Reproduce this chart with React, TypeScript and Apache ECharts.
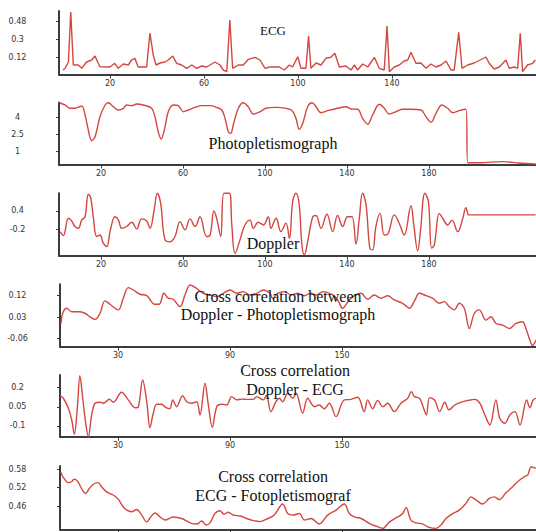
import React, { useEffect, useRef } from "react";
import * as echarts from "echarts";

// ---- data (x = sample index, y = amplitude) ----
const ecgData = [
  [0,-0.01],[0.9,0.007],[2.3,0.07],[3.3,0.57],[4.4,0.04],[6.5,0.04],[8,0.007],[10,0.07],[12.2,0.09],[13.6,0.13],[15,0.057],[15.7,0.023],[20,0.02],[22,0.057],[23.5,0.007],[25.7,0.05],[27.8,0.04],[29.2,0.09],[30.6,0.107],[32,0.02],[35.6,0.02],[37,0.36],[38.4,0.14],[39.6,0.04],[41.3,0.06],[43.4,0.07],[44.8,0.09],[46.7,0.13],[48.4,0.057],[50.5,0.04],[52.6,0.007],[54.8,0.04],[56.9,0.007],[59,0.03],[61.1,0.02],[64.7,0.07],[66.8,0.04],[68.2,-0.01],[69.7,-0.027],[71,0.49],[72.2,0.007],[74.6,0.04],[76.7,0.04],[78.9,0.097],[81.7,0.117],[83.8,0.09],[86,0.007],[88,0.02],[92,0.02],[94.2,-0.01],[96.3,0.04],[97.7,0.02],[99.9,0.123],[101.3,0.007],[103.4,0.007],[104.5,0.33],[105.5,0.007],[107.7,0.06],[109.8,0.04],[111.9,0.107],[114,0.117],[115.7,0.157],[117.6,0.02],[120.4,0.03],[122.6,-0.01],[124,0.04],[125.4,-0.01],[127.5,0.05],[129.7,0.02],[132.5,0.117],[134.6,0.007],[136.7,-0.01],[137.9,0.43],[138.9,-0.027],[141,0.02],[143.1,0.04],[145.2,0.08],[146.7,0.09],[148.1,0.167],[150.2,0.057],[152.3,0.06],[154.5,0.007],[156.6,0.05],[158.7,0.02],[160.9,0.04],[163,0.08],[165.1,-0.01],[166.5,-0.01],[168.4,0.367],[169.8,0.007],[172.2,0.04],[175,0.06],[180,0.12],[181.4,0.057],[183.5,0.0],[185.7,0.02],[188.5,0.09],[189.9,0.007],[192,0.02],[193.5,0.007],[194.6,0.357],[195.6,-0.027],[197.7,0.04],[199.9,0.057],[201,0.09]
];

const photoData = [
  [-0.3,5.26],[2.4,5.06],[4.9,4.77],[7.3,4.77],[10.6,4.97],[12.2,4.18],[13.8,2.85],[15.4,1.91],[17.1,2.26],[19.5,4.03],[22,5.06],[23.6,5.26],[26,4.91],[28.5,4.62],[30.9,4.77],[32.5,5.06],[35,5.0],[37.4,5.15],[40.6,5.06],[44.7,4.77],[46.3,4.03],[47.9,2.7],[49.3,2.06],[50.9,2.85],[52.8,4.47],[55.3,5.06],[57.7,5.0],[60.2,4.47],[62.6,4.62],[65.9,4.85],[69.1,5.0],[73.2,5.0],[76.4,4.85],[78.9,4.62],[80.5,3.88],[82.1,2.7],[83.3,2.56],[84.5,3.3],[87,4.77],[89.4,5.26],[91.8,4.91],[94.3,4.26],[97.6,4.47],[100.5,4.77],[105.4,4.85],[112.7,4.62],[115.1,3.88],[116.7,2.91],[118.4,3.44],[120.8,4.91],[123,5.26],[124.9,4.91],[127.3,4.38],[130.6,4.56],[135.4,4.77],[139.5,4.91],[142,4.71],[145.2,4.68],[147.6,3.88],[150.1,3.36],[152.5,4.18],[155.8,5.12],[158.2,4.77],[160.6,4.26],[163.9,4.47],[167.2,4.68],[171.2,4.68],[176.1,4.62],[178.5,4.03],[181,3.53],[183.4,4.32],[186.3,5.06],[189.1,4.77],[191.6,4.38],[194.8,4.56],[198,4.68],[198.9,-0.03],[200.2,-0.03],[204.5,-0.03],[215.9,0.06],[224,-0.06],[232,-0.15]
];

const dopplerData = [
  [0,-0.28],[1.6,-0.41],[4.1,0.16],[5.7,0.07],[7.3,-0.11],[8.9,-0.17],[10.6,0.1],[12.2,0.21],[13.8,0.95],[15,0.82],[16.3,0.16],[17.9,-0.44],[19.5,-0.39],[21.1,-0.66],[22.8,-0.77],[24.4,-0.28],[26.8,0.21],[28.5,0.1],[30.1,-0.17],[32.5,-0.11],[35,0.03],[37.4,-0.19],[39.8,0.14],[42.3,0.07],[43.9,-0.17],[45.9,0.43],[47.5,0.98],[49.1,0.65],[51.2,-0.55],[53.7,-0.61],[56.1,-0.44],[58.5,0.05],[61,-0.22],[63.4,0.14],[65.9,-0.11],[68.3,0.21],[71.5,-0.44],[73.2,-0.39],[75.1,0.4],[76.4,0.16],[78.4,-0.44],[80,0.98],[82.6,0.98],[83.8,-0.06],[85.4,-0.99],[87.8,-0.55],[90.2,-0.06],[92.7,0.1],[94.3,-0.17],[96.7,0.03],[99.2,-0.06],[101.6,0.21],[102.9,-0.17],[105.4,0.16],[107.8,-0.28],[110.2,0.0],[111.9,-0.5],[113.5,0.71],[115.1,0.98],[116.7,0.6],[118,-0.71],[119.2,-1.04],[120.8,-0.61],[123.3,0.21],[124.9,0.25],[127.3,-0.17],[130.2,0.29],[133,-0.28],[135.4,0.25],[137.9,-0.11],[140.3,0.21],[142.4,0.21],[144.4,-0.69],[146,0.16],[147.6,0.98],[149.3,0.6],[151.2,-0.85],[152.5,-0.88],[154.1,-0.11],[156.1,0.32],[158.2,-0.39],[159.8,-0.37],[163.1,0.27],[165.5,-0.01],[167.9,-0.39],[171.2,0.57],[172.5,-0.01],[174.5,-0.91],[175.8,-0.28],[178,0.98],[179.7,0.71],[181.3,-0.82],[182.6,-0.71],[185,0.32],[186.7,0.16],[189.1,-0.06],[191.2,0.1],[194,-0.28],[196.5,0.16],[198,0.51],[199.4,0.27],[201,0.27],[232,0.27]
];

const ccDopPhoto = [
  [-0.5,0.003],[0.4,0.046],[2.5,0.067],[5.2,0.052],[8.7,0.052],[12.3,0.046],[15,0.031],[17.7,0.02],[20.4,0.046],[23,0.098],[25.7,0.084],[30.2,0.06],[32.8,0.109],[35.5,0.154],[38.2,0.144],[41.8,0.126],[45.4,0.12],[49.8,0.084],[52.1,0.084],[54.6,0.13],[56.9,0.11],[59.6,0.105],[63.2,0.074],[65.9,0.123],[68.6,0.165],[72.2,0.15],[75.7,0.13],[79.3,0.123],[82.9,0.116],[86.4,0.13],[90,0.144],[93.6,0.13],[97.1,0.137],[100.7,0.123],[104.3,0.13],[107.8,0.144],[111.4,0.13],[112.8,0.109],[115.5,0.13],[119.1,0.137],[122.7,0.123],[126.2,0.13],[129.8,0.12],[133.4,0.13],[136.1,0.123],[139.7,0.137],[145,0.123],[147.7,0.102],[150.3,0.067],[153.9,0.102],[156.6,0.12],[160.2,0.13],[163.7,0.105],[167.3,0.123],[170.9,0.109],[174.5,0.12],[178,0.102],[182.5,0.088],[186.1,0.067],[188.8,0.098],[191.4,0.13],[195,0.12],[198.6,0.109],[202.1,0.088],[204.8,0.095],[207.4,0.074],[210.1,0.06],[212.8,0.088],[215.5,0.067],[218.2,-0.018],[220.9,0.046],[223.5,0.06],[227.1,0.017],[229.8,0.031],[232.5,0.003],[236,-0.004],[239.6,-0.018],[243.2,0.003],[246.7,0.01],[248.5,-0.018],[250.3,-0.06],[252.1,-0.09],[253.9,-0.067]
];

const ccDopEcg = [
  [-1,0.137],[0.7,0.117],[3.4,0.039],[5.2,-0.053],[6.6,-0.165],[8.2,0.039],[9.6,0.294],[11.1,0.117],[12.7,-0.079],[14.1,-0.184],[15.9,-0.014],[17.7,0.078],[20.4,0.086],[22.1,0.078],[25.4,0.109],[27.5,0.086],[31.9,0.164],[35.5,0.104],[39.1,0.043],[40.9,0.051],[43.2,0.26],[45.4,0.09],[47.1,-0.113],[48.9,0.0],[50.7,0.07],[53.4,0.07],[55.7,0.043],[57.8,0.035],[59.3,0.104],[61.4,0.051],[64.6,0.137],[66.8,0.09],[69.5,0.078],[72.1,0.09],[73.9,-0.014],[76.6,0.234],[78.4,0.064],[80.5,-0.11],[82.9,0.051],[85.5,0.07],[88.2,0.064],[90.9,0.13],[93.6,0.104],[96.3,0.11],[98.9,0.108],[102.5,0.108],[104.3,0.13],[107.8,0.104],[109.5,0.14],[111.9,0.012],[114.6,0.09],[116.4,0.117],[118.2,0.09],[120.9,0.156],[123.6,0.117],[125.4,0.156],[128.9,0.0],[131.6,0.117],[135.2,0.051],[137.8,0.064],[140.5,0.035],[143.2,0.078],[146.8,-0.027],[151.2,0.104],[154.8,0.108],[158.4,0.125],[161.9,0.012],[163.7,0.104],[166.4,0.035],[169.1,0.1],[171.8,0.051],[174.5,0.078],[178,0.012],[181.6,0.078],[185.2,0.117],[187.1,0.169],[188.8,0.13],[191.5,0.117],[193.4,0.051],[195.2,-0.014],[196.9,0.122],[199.7,0.1],[202.3,0.012],[205,0.086],[207.3,0.026],[210.4,0.064],[214,0.086],[217.6,0.1],[221.2,0.108],[223.8,0.078],[226.5,-0.014],[229.2,-0.092],[232.4,0.104],[234.5,-0.04],[237.2,-0.079],[239.9,-0.014],[242.6,0.012],[245.3,-0.092],[248.9,0.104],[250.6,0.043],[252.4,0.104],[254.2,0.117]
];

const ccEcgPhoto = [
  [-0.7,0.571],[0.7,0.553],[3.4,0.536],[5.2,0.539],[6.4,0.547],[8.2,0.542],[10.5,0.517],[12.7,0.501],[14.6,0.517],[16.8,0.531],[19.4,0.536],[21.2,0.523],[23.9,0.506],[27.4,0.496],[30.2,0.482],[32.5,0.46],[34.7,0.447],[37.3,0.442],[40,0.449],[42.7,0.431],[45.4,0.409],[47.5,0.425],[49.8,0.438],[52.5,0.425],[55.2,0.415],[59.6,0.425],[64.1,0.42],[68.6,0.406],[72.2,0.402],[74.8,0.412],[77.1,0.399],[79.3,0.406],[81.9,0.436],[84.6,0.445],[86.8,0.434],[89.1,0.44],[91.8,0.431],[95.4,0.428],[98.9,0.42],[102.5,0.413],[106,0.41],[109.6,0.418],[113.7,0.431],[118.2,0.467],[120.9,0.436],[123.6,0.431],[127.2,0.436],[129.8,0.415],[133.4,0.42],[137.8,0.402],[142.3,0.431],[146.8,0.447],[151.2,0.467],[153.9,0.436],[156.6,0.425],[160.2,0.42],[164.6,0.404],[168.2,0.395],[171.8,0.388],[175.4,0.409],[179.8,0.425],[182.5,0.436],[184.3,0.456],[186.9,0.415],[189.6,0.406],[193.2,0.402],[196.7,0.391],[200.3,0.388],[203,0.399],[205.7,0.42],[209.3,0.436],[212.8,0.447],[216.4,0.469],[219.1,0.49],[221.7,0.48],[225.3,0.467],[228.9,0.485],[231.6,0.49],[234.2,0.481],[237.8,0.503],[241.4,0.523],[245,0.544],[247.6,0.555],[249.5,0.561],[251.3,0.587],[253.9,0.582]
];

// tick labels
const ecgXTicks = [20, 60, 100, 140];
const ecgYTicks = [0.12, 0.3, 0.48];
const photoXTicks = [20, 60, 100, 140, 180];
const photoYTicks = [1, 2.5, 4];
const dopplerXTicks = [20, 60, 100, 140, 180];
const dopplerYTicks = [-0.2, 0.4];
const ccXTicks = [30, 90, 150];
const ccDopPhotoYTicks = [-0.06, 0.03, 0.12];
const ccDopEcgYTicks = [-0.1, 0.05, 0.2];
const ccEcgPhotoYTicks = [0.46, 0.52, 0.58];

const titles = [
  { lines: ["ECG"], size: 13 },
  { lines: ["Photopletismograph"], size: 16 },
  { lines: ["Doppler"], size: 16 },
  { lines: ["Cross correlation between", "Doppler - Photopletismograph"], size: 16 },
  { lines: ["Cross correlation", "Doppler - ECG"], size: 16 },
  { lines: ["Cross correlation", "ECG - Fotopletismograf"], size: 16 },
];

// ---- layout / styling ----
const panels = [
  { data: ecgData, xt: ecgXTicks, yt: ecgYTicks, grid: { left: 59, top: 11, width: 477, height: 63.5 }, x: [-1.7, 201.3], y: [-0.055, 0.58], smooth: false, title: { x: 273, y: [30] }, showX: true },
  { data: photoData, xt: photoXTicks, yt: photoYTicks, grid: { left: 59, top: 102.5, width: 477, height: 62 }, x: [-0.5, 232.2], y: [-0.19, 5.28], smooth: 0.35, title: { x: 273, y: [143] }, showX: true },
  { data: dopplerData, xt: dopplerXTicks, yt: dopplerYTicks, grid: { left: 59, top: 193.3, width: 477, height: 62.4 }, x: [-0.5, 232.2], y: [-1.07, 0.98], smooth: 0.4, title: { x: 273, y: [243] }, showX: true },
  { data: ccDopPhoto, xt: ccXTicks, yt: ccDopPhotoYTicks, grid: { left: 60, top: 284.3, width: 476, height: 62.4 }, x: [-1.07, 253.9], y: [-0.095, 0.168], smooth: 0.35, title: { x: 278, y: [296, 314] }, showX: true },
  { data: ccDopEcg, xt: ccXTicks, yt: ccDopEcgYTicks, grid: { left: 60, top: 375, width: 476, height: 61.7 }, x: [-1.07, 253.9], y: [-0.184, 0.299], smooth: 0.35, title: { x: 295, y: [370, 389] }, showX: true },
  { data: ccEcgPhoto, xt: ccXTicks, yt: ccEcgPhotoYTicks, grid: { left: 60, top: 466, width: 476, height: 63.3 }, x: [-1.07, 253.9], y: [0.385, 0.59], smooth: 0.35, title: { x: 273, y: [476, 495] }, showX: false },
];

const AXIS_COLOR = "#3c3c3c";
const LINE_COLOR = "#d4473f";
const LABEL_FONT = "DejaVu Sans";
const TITLE_FONT = '"Liberation Serif", "DejaVu Serif", serif';

function buildOption() {
  const grid: any[] = [];
  const xAxis: any[] = [];
  const yAxis: any[] = [];
  const series: any[] = [];
  const graphic: any[] = [];
  panels.forEach((p, i) => {
    grid.push({ ...p.grid, containLabel: false });
    xAxis.push({
      type: "value",
      gridIndex: i,
      min: p.x[0],
      max: p.x[1],
      splitLine: { show: false },
      axisLine: { show: true, onZero: false, lineStyle: { color: AXIS_COLOR, width: 2 } },
      axisTick: { show: true, length: 4, customValues: p.xt, lineStyle: { color: AXIS_COLOR, width: 1 } },
      axisLabel: {
        show: p.showX,
        customValues: p.xt,
        margin: 5,
        fontSize: 8,
        fontFamily: LABEL_FONT,
        color: "#333",
      },
    });
    yAxis.push({
      type: "value",
      gridIndex: i,
      min: p.y[0],
      max: p.y[1],
      splitLine: { show: false },
      axisLine: { show: true, onZero: false, lineStyle: { color: AXIS_COLOR, width: 2 } },
      axisTick: { show: true, length: 3, customValues: p.yt, lineStyle: { color: AXIS_COLOR, width: 1 } },
      axisLabel: {
        customValues: p.yt,
        align: "center",
        margin: p.grid.left - 17.5,
        fontSize: 8,
        fontFamily: LABEL_FONT,
        color: "#333",
      },
    });
    series.push({
      type: "line",
      xAxisIndex: i,
      yAxisIndex: i,
      data: p.data,
      showSymbol: false,
      smooth: p.smooth,
      clip: false,
      lineStyle: { color: LINE_COLOR, width: 1.4 },
    });
    titles[i].lines.forEach((t, k) => {
      graphic.push({
        type: "text",
        x: p.title.x,
        y: p.title.y[k],
        z: 100,
        style: {
          text: t,
          fill: "#111",
          font: `${titles[i].size}px ${TITLE_FONT}`,
          textAlign: "center",
          textVerticalAlign: "middle",
        },
      });
    });
  });
  return { animation: false, backgroundColor: "#fff", grid, xAxis, yAxis, series, graphic };
}

export default function App() {
  const ref = useRef<HTMLDivElement>(null);
  useEffect(() => {
    const chart = echarts.init(ref.current!, null, { renderer: "svg" });
    chart.setOption(buildOption() as any);
    return () => chart.dispose();
  }, []);
  return (
    <div
      ref={ref}
      style={{ position: "fixed", left: 0, top: 0, width: 536, height: 532 }}
    />
  );
}
